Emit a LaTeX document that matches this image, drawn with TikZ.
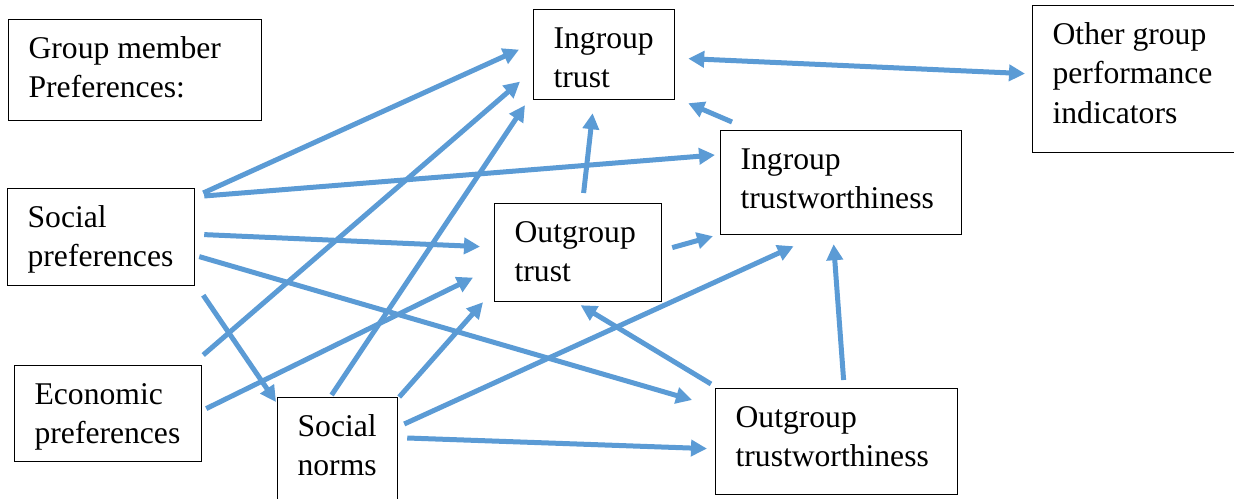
\documentclass[tikz,border=0pt]{standalone}
\usepackage{fontspec}
\setmainfont{Liberation Serif}
\usetikzlibrary{arrows.meta}
\newlength{\pxu}\setlength{\pxu}{0.02cm}
\definecolor{arrblue}{HTML}{5B9BD5}
\newcommand{\boxtext}[3]{\parbox[c][#1\pxu][t]{#2\pxu}{\raggedright\rule{0pt}{39\pxu}#3}}
\begin{document}
\begin{tikzpicture}[x=0.02cm,y=-0.02cm,
  box/.style={draw=black, line width=0.7pt, anchor=north west, inner xsep=20\pxu, inner ysep=0pt,
    font=\fontsize{18}{22.4}\selectfont},
  tip/.tip={Triangle[length=0.32cm,width=0.32cm]},
  arr/.style={draw=arrblue, line width=0.1cm, -tip},
  darr/.style={draw=arrblue, line width=0.1cm, tip-tip}]
\useasboundingbox (0,0) rectangle (1234,499);

\node[box] (gm)  at (8,19)    {\boxtext{101}{213}{Group member\\Preferences:}};
\node[box] (it)  at (533,9)   {\boxtext{90}{101}{Ingroup\\trust}};
\node[box] (og)  at (1032,5)  {\boxtext{147}{168}{Other group\\performance\\indicators}};
\node[box] (itw) at (720,130) {\boxtext{104}{201}{Ingroup\\trustworthiness}};
\node[box] (sp)  at (7,188)   {\boxtext{97}{147}{Social\\preferences}};
\node[box] (ot)  at (494,203) {\boxtext{98}{127}{Outgroup\\trust}};
\node[box] (ep)  at (14,365)  {\boxtext{96}{147}{Economic\\preferences}};
\node[box] (sn)  at (277,397) {\boxtext{110}{80}{Social\\norms}};
\node[box] (otw) at (715,388) {\boxtext{106}{202}{Outgroup\\trustworthiness}};

% from social preferences
\draw[arr] ([shift={(8,5)}]sp.north east) -- ([shift={(-14,-5)}]it.west);
\draw[arr] ([shift={(9,8)}]sp.north east) -- ([shift={(-5,25)}]itw.north west);
\draw[arr] ([shift={(9,-2.5)}]sp.east) -- ([shift={(-14,-6)}]ot.west);
\draw[arr] ([shift={(4,19.5)}]sp.east) -- ([shift={(-23,12)}]otw.north west);
\draw[arr] ([shift={(8,9)}]sp.south east) -- ([shift={(-1,5)}]sn.north west);
% from economic preferences
\draw[arr] ([shift={(1,-10)}]ep.north east) -- ([shift={(-13,27)}]it.west);
\draw[arr] ([shift={(4,-5)}]ep.east) -- ([shift={(-21,25)}]ot.west);
% from social norms
\draw[arr] ([shift={(-6,-2)}]sn.north) -- ([shift={(-8,5)}]it.south west);
\draw[arr] ([shift={(1,0)}]sn.north east) -- ([shift={(-11,0)}]ot.south west);
\draw[arr] ([shift={(6,27)}]sn.north east) -- ([shift={(-47.5,11)}]itw.south);
\draw[arr] ([shift={(9,41)}]sn.north east) -- ([shift={(-8,7)}]otw.west);
% among trust nodes
\draw[arr] ([shift={(5.5,-10)}]ot.north) -- ([shift={(-11.5,13)}]it.south);
\draw[arr] ([shift={(10,-5)}]ot.east) -- ([shift={(-7,1)}]itw.south west);
\draw[arr] ([shift={(12,-8)}]itw.north west) -- ([shift={(13,3)}]it.south east);
\draw[arr] ([shift={(-4,-4)}]otw.north west) -- ([shift={(2.5,3)}]ot.south);
\draw[arr] ([shift={(7,-8)}]otw.north) -- ([shift={(-7.5,9)}]itw.south);
\draw[darr] ([shift={(13,4)}]it.east) -- ([shift={(-7,-5.5)}]og.west);
\end{tikzpicture}
\end{document}
